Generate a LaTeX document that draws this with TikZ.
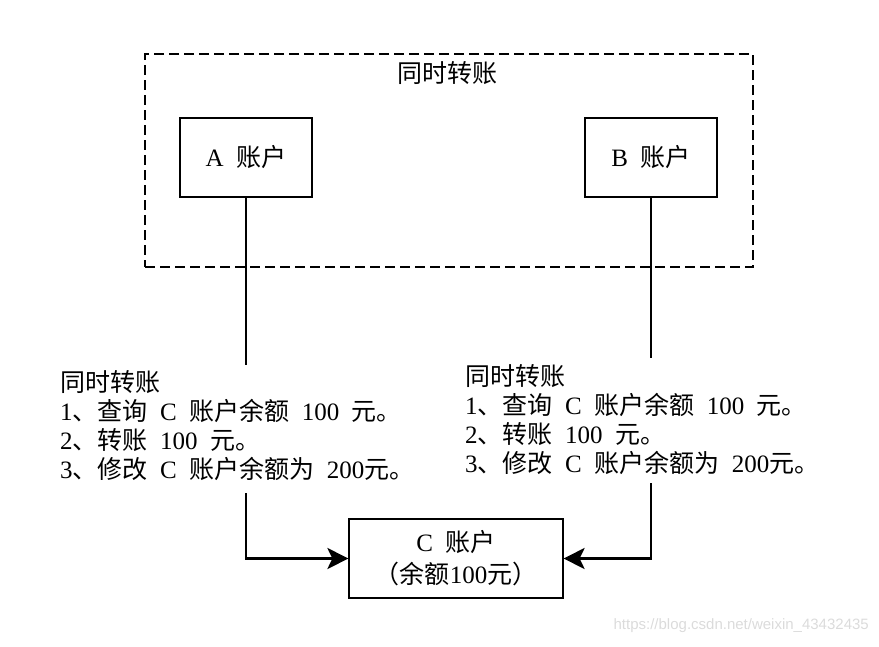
\documentclass[tikz,border=0pt]{standalone}
\usepackage{fontspec}
\setmainfont{Liberation Serif}[WordSpace=2]
\newfontfamily\cjkfont{Noto Sans CJK SC}
\newfontfamily\wmfont{Liberation Sans}
\newcommand\zh[1]{{\cjkfont #1}}
\usetikzlibrary{arrows.meta}
\tikzset{
  acct/.style={draw=black, line width=1.2pt, minimum width=132pt, minimum height=79pt, inner sep=0pt, font=\fontsize{25}{29}\selectfont},
  grp/.style={draw=black, line width=1.1pt, dash pattern=on 10pt off 5pt, minimum width=608pt, minimum height=213pt, inner sep=0pt},
  txt/.style={align=left, inner sep=0pt, font=\fontsize{25}{29}\selectfont},
  conn/.style={line width=2.8pt},
  arr/.style={line width=2.8pt, -{Stealth[length=21pt,width=21pt,inset=5pt]}}
}
\begin{document}
\begin{tikzpicture}[x=1pt,y=-1pt]
\useasboundingbox (0,0) rectangle (879,646);
% group frame
\node[grp] (G) at (449,160.5) {};
\node[txt] (T) at (447,73) {\zh{同时转账}};
% accounts
\node[acct] (A) at (246,157.5) {A \zh{账户}};
\node[acct] (B) at (651,157.5) {B \zh{账户}};
\node[acct, minimum width=214pt, align=center, font=\fontsize{25}{32}\selectfont] (C) at (456,558.5) {C \zh{账户}\\\zh{（余额}100\zh{元）}};
% text blocks
\node[txt, anchor=north west] (L) at (60,370)
  {\zh{同时转账}\\1\zh{、查询} C \zh{账户余额} 100 \zh{元。}\\2\zh{、转账} 100 \zh{元。}\\3\zh{、修改} C \zh{账户余额为} 200\zh{元。}};
\node[txt, anchor=north west] (R) at (465,364)
  {\zh{同时转账}\\1\zh{、查询} C \zh{账户余额} 100 \zh{元。}\\2\zh{、转账} 100 \zh{元。}\\3\zh{、修改} C \zh{账户余额为} 200\zh{元。}};
% connector ends
\coordinate (Lt) at (246,365);
\coordinate (Lb) at (246,493);
\coordinate (Rt) at (651,358);
\coordinate (Rb) at (651,483);
\draw[conn] (A.south) -- (Lt);
\draw[conn] (B.south) -- (Rt);
\draw[arr] (Lb) |- (C.west);
\draw[arr] (Rb) |- (C.east);
% watermark
\node[anchor=east, inner sep=0pt, text=black!14, font=\wmfont\fontsize{15}{18}\selectfont] (W) at (869,626) {https://blog.csdn.net/weixin\_43432435};
\end{tikzpicture}
\end{document}
